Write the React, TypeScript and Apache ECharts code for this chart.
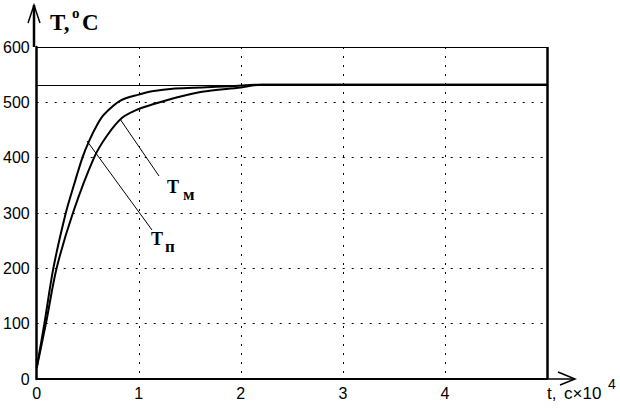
import React, { useEffect, useRef } from "react";
import * as echarts from "echarts";

// time in units of 10^4 s, temperature in °C
const timeP = [0, 0.075, 0.163, 0.285, 0.364, 0.448, 0.513, 0.594, 0.66, 0.82, 1.0, 1.13, 1.355, 1.62, 1.9, 2.2, 5];
const tempP = [20, 100, 200, 300, 350, 400, 430, 460, 478, 503, 514, 520, 525, 527, 529, 532, 532];
const timeM = [0, 0.09, 0.195, 0.355, 0.562, 0.69, 0.837, 1.0, 1.13, 1.42, 1.62, 2.0, 2.2, 5];
const tempM = [20, 100, 200, 300, 400, 440, 472, 488, 496, 511, 519, 527, 532, 532];
const xTicks = [0, 1, 2, 3, 4, 5];
const yTicks = [0, 100, 200, 300, 400, 500, 600];
const refLevel = 530;

export default function App() {
  const ref = useRef<HTMLDivElement>(null);
  useEffect(() => {
    document.body.style.margin = "0";
    const chart = echarts.init(ref.current!, null, { renderer: "svg" });
    const dataP = timeP.map((t, i) => [t, tempP[i]]);
    const dataM = timeM.map((t, i) => [t, tempM[i]]);
    const dotted = { color: "#000", type: [2, 7], width: 1, opacity: 1 };
    const serif = "Liberation Serif";
    chart.setOption({
      animation: false,
      backgroundColor: "#fff",
      grid: { left: 34, right: 73, top: 47, bottom: 30 },
      xAxis: {
        type: "value",
        min: xTicks[0],
        max: xTicks[xTicks.length - 1],
        interval: 1,
        axisLine: { show: true, lineStyle: { color: "#000", width: 2 } },
        axisTick: { show: false },
        axisLabel: {
          color: "#000",
          fontSize: 16,
          fontFamily: "Liberation Sans",
          margin: 6,
          formatter: (v: number) => (v === 5 ? "" : String(v)),
        },
        splitLine: { show: true, lineStyle: dotted },
      },
      yAxis: {
        type: "value",
        min: yTicks[0],
        max: yTicks[yTicks.length - 1],
        interval: 100,
        axisLine: { show: true, lineStyle: { color: "#000", width: 2.5 } },
        axisTick: { show: false },
        axisLabel: { color: "#000", fontSize: 16, fontFamily: "Liberation Sans", margin: 7 },
        splitLine: { show: true, lineStyle: dotted },
      },
      series: [
        {
          name: "Tп",
          type: "line",
          data: dataP,
          smooth: 0.3,
          symbol: "none",
          lineStyle: { color: "#000", width: 2 },
          markLine: {
            silent: true,
            symbol: "none",
            label: { show: false },
            data: [
              { yAxis: refLevel, lineStyle: { color: "#000", width: 1, type: "solid" } },
              { yAxis: 600, lineStyle: { color: "#000", width: 1, type: "solid" } },
              { xAxis: 5, lineStyle: { color: "#000", width: 2.5, type: "solid" } },
            ],
          },
        },
        {
          name: "Tм",
          type: "line",
          data: dataM,
          smooth: 0.3,
          symbol: "none",
          lineStyle: { color: "#000", width: 2 },
        },
      ],
      graphic: [
        // y axis extension + arrow
        { type: "line", shape: { x1: 34, y1: 47, x2: 34, y2: 5 }, style: { stroke: "#000", lineWidth: 2.5 } },
        { type: "polyline", shape: { points: [[28, 23], [34, 5], [40, 23]] }, style: { stroke: "#000", lineWidth: 1.5, fill: "none" } },
        // x axis extension + arrow
        { type: "line", shape: { x1: 547, y1: 379, x2: 575, y2: 379 }, style: { stroke: "#000", lineWidth: 1.5 } },
        { type: "polyline", shape: { points: [[558, 372], [575, 379], [560, 385]] }, style: { stroke: "#000", lineWidth: 1.5, fill: "none" } },
        // y axis title
        { type: "text", x: 50, y: 11, style: { text: "T,", font: `bold 23px ${serif}`, fill: "#000" } },
        { type: "text", x: 72, y: 5, style: { text: "o", font: `bold 15px ${serif}`, fill: "#000" } },
        { type: "text", x: 82, y: 11, style: { text: "C", font: `bold 23px ${serif}`, fill: "#000" } },
        // x axis title
        { type: "text", x: 547, y: 385, style: { text: "t,", font: "17px Liberation Sans", fill: "#000" } },
        { type: "text", x: 564, y: 385, style: { text: "c×10", font: "17px Liberation Sans", fill: "#000" } },
        { type: "text", x: 608, y: 377, style: { text: "4", font: "14px Liberation Sans", fill: "#000" } },
        // pointers
        { type: "line", shape: { x1: 120, y1: 119, x2: 159, y2: 176 }, style: { stroke: "#000", lineWidth: 1 } },
        { type: "line", shape: { x1: 87, y1: 141, x2: 152, y2: 230 }, style: { stroke: "#000", lineWidth: 1 } },
        { type: "text", x: 167, y: 178, style: { text: "T", font: `bold 18px ${serif}`, fill: "#000" } },
        { type: "text", x: 183, y: 186, style: { text: "м", font: `bold 17px ${serif}`, fill: "#000" } },
        { type: "text", x: 151, y: 230, style: { text: "T", font: `bold 18px ${serif}`, fill: "#000" } },
        { type: "text", x: 165, y: 238, style: { text: "п", font: `bold 17px ${serif}`, fill: "#000" } },
      ],
    });
    return () => chart.dispose();
  }, []);
  return <div ref={ref} style={{ width: 620, height: 409 }} />;
}
